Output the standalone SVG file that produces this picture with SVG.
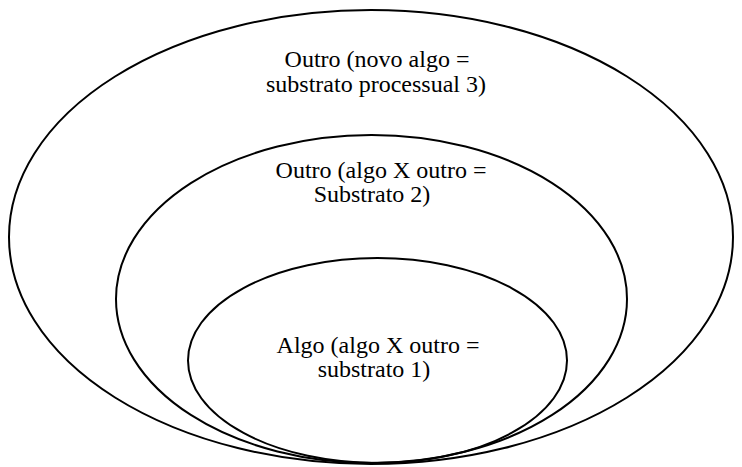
<svg xmlns="http://www.w3.org/2000/svg" width="742" height="467" viewBox="0 0 742 467">
<style>
.e{fill:none;stroke:#000;stroke-width:2}
.t{font-family:"Liberation Serif","Times New Roman",serif;font-size:24px;fill:#000;text-anchor:middle}
</style>
<rect width="742" height="467" fill="#fff"/>
<g id="outer">
<ellipse class="e" cx="371" cy="237" rx="362" ry="227"/>
<text class="t" x="377" y="67">Outro (novo algo =</text>
<text class="t" x="376" y="92">substrato processual 3)</text>
</g>
<g id="middle">
<ellipse class="e" cx="371.5" cy="299" rx="255.5" ry="164"/>
<text class="t" x="381" y="178">Outro (algo X outro =</text>
<text class="t" x="372" y="202">Substrato 2)</text>
</g>
<g id="inner">
<ellipse class="e" cx="377.5" cy="360.5" rx="189.5" ry="102.5"/>
<text class="t" x="378" y="353">Algo (algo X outro =</text>
<text class="t" x="374" y="377">substrato 1)</text>
</g>
<g id="connectors"/>
</svg>
